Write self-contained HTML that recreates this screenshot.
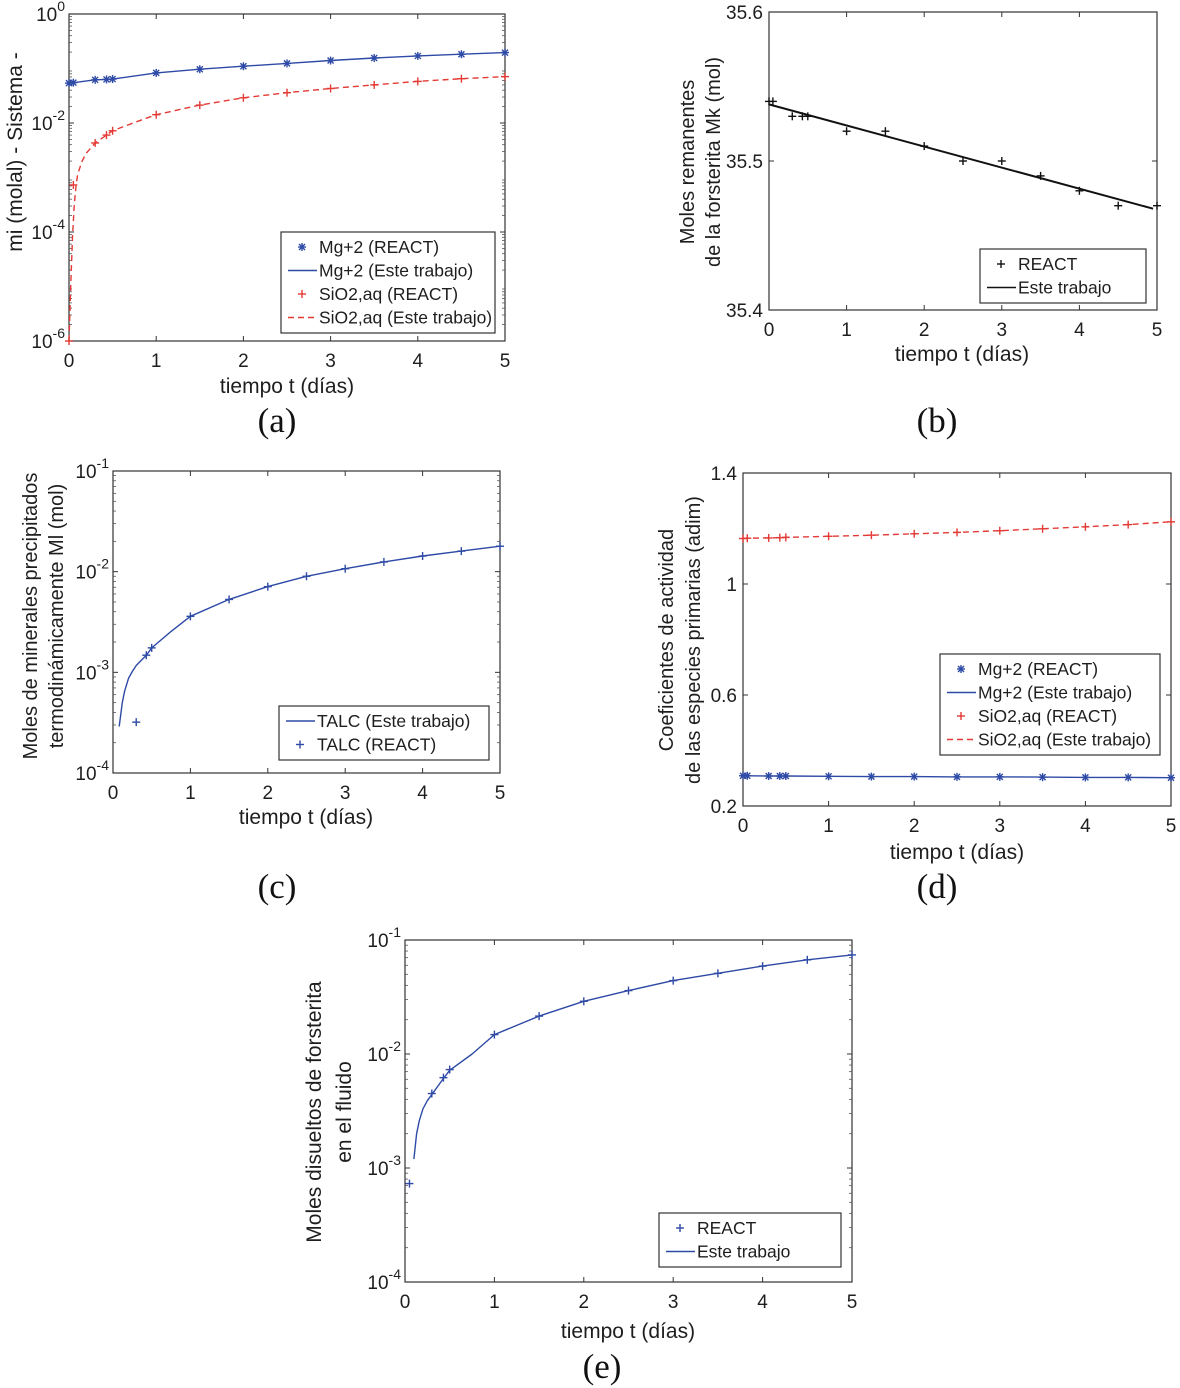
<!DOCTYPE html>
<html><head><meta charset="utf-8"><style>
html,body{margin:0;padding:0;background:#fff}
svg{display:block}
text{font-family:"Liberation Sans",sans-serif;fill:#1e1e1e}
.pl{font-family:"Liberation Serif",serif;font-size:35px;fill:#111}
</style></head><body>
<svg id="fig" width="1180" height="1388" viewBox="0 0 1180 1388" xmlns="http://www.w3.org/2000/svg"></svg>
<script>
// ---- data ----
const tR = [0,0.05,0.3,0.43,0.5,1,1.5,2,2.5,3,3.5,4,4.5,5];
// panel a
const aMg = [0.054,0.055,0.062,0.063,0.064,0.083,0.097,0.11,0.124,0.14,0.156,0.17,0.183,0.196];
const aSiR = [1e-6,7.3e-4,4.3e-3,6.0e-3,7.2e-3,0.0142,0.0213,0.029,0.036,0.043,0.05,0.058,0.065,0.071];
const aSiLt = [0,0.02,0.04,0.06,0.08,0.1,0.15,0.2,0.3,0.43,0.5,0.75,1,1.5,2,2.5,3,3.5,4,4.5,5];
const aSiL = [1e-6,1e-5,8e-5,3e-4,7e-4,1.15e-3,2e-3,2.8e-3,4.3e-3,6e-3,7.2e-3,1.02e-2,0.0142,0.0213,0.029,0.036,0.043,0.05,0.058,0.065,0.071];
// panel b
const bR = [35.540,35.540,35.530,35.530,35.530,35.520,35.520,35.510,35.500,35.500,35.490,35.480,35.470,35.470];
const bLt = [0,4.95];
const bL = [35.538,35.468];
// panel c
const cRt = [0.3,0.43,0.5,1,1.5,2,2.5,3,3.5,4,4.5,5];
const cR = [3.2e-4,1.48e-3,1.75e-3,3.6e-3,5.3e-3,7.1e-3,9.0e-3,1.07e-2,1.25e-2,1.43e-2,1.6e-2,1.79e-2];
const cLt = [0.08,0.12,0.15,0.2,0.25,0.3,0.43,0.5,0.75,1,1.5,2,2.5,3,3.5,4,4.5,5];
const cL = [2.9e-4,5e-4,6.5e-4,8.7e-4,1.02e-3,1.17e-3,1.48e-3,1.75e-3,2.55e-3,3.6e-3,5.3e-3,7.1e-3,9.0e-3,1.07e-2,1.25e-2,1.43e-2,1.6e-2,1.79e-2];
// panel d
const dMg = [0.309,0.309,0.308,0.308,0.308,0.307,0.306,0.306,0.305,0.305,0.304,0.303,0.303,0.302];
const dSi = [1.164,1.165,1.166,1.167,1.168,1.172,1.176,1.181,1.186,1.192,1.199,1.206,1.214,1.224];
// panel e
const eR = [7.3e-4,4.5e-3,6.2e-3,7.3e-3,0.0148,0.0215,0.0290,0.0360,0.0440,0.0510,0.0590,0.0670,0.0740];
const eRt = [0.05,0.3,0.43,0.5,1,1.5,2,2.5,3,3.5,4,4.5,5];
const eLt = [0.1,0.13,0.16,0.2,0.25,0.3,0.43,0.5,0.75,1,1.5,2,2.5,3,3.5,4,4.5,5];
const eL = [1.2e-3,2.0e-3,2.6e-3,3.3e-3,3.9e-3,4.4e-3,6.1e-3,7.2e-3,1.0e-2,0.0148,0.0215,0.029,0.036,0.044,0.051,0.059,0.067,0.074];
const xTicks = [0,1,2,3,4,5];

const NS="http://www.w3.org/2000/svg";
const svg=document.getElementById('fig');
const BLUE="#2e4aa6", RED="#e33a35";
function mk(tag,attrs,parent){const e=document.createElementNS(NS,tag);for(const k in attrs)e.setAttribute(k,attrs[k]);(parent||svg).appendChild(e);return e;}

function panel(id,L,R,T,B,ymin,ymax,log,yTicks){
  const g=mk('g',{});
  
  
  const xs=t=>L+(t-0)/(5-0)*(R-L);
  const ys=v=>log? B-(Math.log10(v)-ymin)/(ymax-ymin)*(B-T) : B-(v-ymin)/(ymax-ymin)*(B-T);
  const box=mk('rect',{x:L,y:T,width:R-L,height:B-T,fill:'none',stroke:'#333','stroke-width':1.2},g);
  
  
  xTicks.forEach(t=>{
    const x=xs(t);
    mk('line',{x1:x,x2:x,y1:B,y2:B-5,stroke:'#333'},g);
    mk('line',{x1:x,x2:x,y1:T,y2:T+5,stroke:'#333'},g);
    const tx=mk('text',{x:x,y:B+26,'font-size':19,'text-anchor':'middle'},g);
    tx.textContent=t;
    
    
  });
  yTicks.forEach(v=>{
    const y=log?ys(Math.pow(10,v)):ys(v);
    mk('line',{x1:L,x2:L+5,y1:y,y2:y,stroke:'#333'},g);
    mk('line',{x1:R,x2:R-5,y1:y,y2:y,stroke:'#333'},g);
    const tx=mk('text',{x:L-6,y:y+7,'font-size':19,'text-anchor':'end'},g);
    
    
    if(log){
      const a=mk('tspan',{},tx);a.textContent='10';
      const b=mk('tspan',{dy:-10,'font-size':14},tx);b.textContent=String(v);
      tx.setAttribute('x',L-4);
    } else tx.textContent=v.toFixed(1);
  });
  if(log){
    for(let d=ymin;d<ymax;d++)for(let k=2;k<10;k++){const y=ys(k*Math.pow(10,d));
      mk('line',{x1:L,x2:L+3,y1:y,y2:y,stroke:'#555','stroke-width':0.8},g);
      mk('line',{x1:R,x2:R-3,y1:y,y2:y,stroke:'#555','stroke-width':0.8},g);}
  }
  return {g,xs,ys};
}
function line(p,ts,vs,color,dash,name,w){
  const d=ts.map((t,i)=>(i?'L':'M')+p.xs(t).toFixed(1)+','+p.ys(vs[i]).toFixed(1)).join(' ');
  const e=mk('path',{d,fill:'none',stroke:color,'stroke-width':w||1.4,'stroke-dasharray':dash||'none','stroke-linejoin':'round'},p.g);
  
  
}
function markers(p,ts,vs,color,type,name){
  const g=mk('g',{stroke:color,'stroke-width':1.4},p.g);
  
  
  ts.forEach((t,i)=>{const x=p.xs(t),y=p.ys(vs[i]);drawMark(g,x,y,type);});
}
function drawMark(g,x,y,type){
  const s=4;
  mk('line',{x1:x-s,x2:x+s,y1:y,y2:y},g);mk('line',{x1:x,x2:x,y1:y-s,y2:y+s},g);
  if(type==='star'){mk('line',{x1:x-3,x2:x+3,y1:y-3,y2:y+3},g);mk('line',{x1:x-3,x2:x+3,y1:y+3,y2:y-3},g);}
}
function legend(name,x,y,w,entries){
  const g=mk('g',{});
  
  
  const h=entries.length*23.5+7;
  mk('rect',{x,y,width:w,height:h,fill:'#fff',stroke:'#333','stroke-width':1.2},g);
  entries.forEach((en,i)=>{
    const cy=y+15+i*23.5;
    const eg=mk('g',{stroke:en.c,'stroke-width':1.4},g);
    
    
    if(en.m) drawMark(eg,x+21,cy,en.m);
    else mk('line',{x1:x+7,x2:x+36,y1:cy,y2:cy,'stroke-dasharray':en.d||'none'},eg);
    const t=mk('text',{x:x+38,y:cy+6,'font-size':17.5,stroke:'none'},eg);t.textContent=en.t;
  });
}
function text(name,s,x,y,size,rot,cls){
  const t=mk('text',{x,y,'font-size':size,'text-anchor':'middle'});
  if(rot)t.setAttribute('transform',`rotate(-90 ${x} ${y})`);
  if(cls)t.setAttribute('class',cls);
  t.textContent=s;
  
  
}

// Panel a
let p=panel('panel-a',69,505,14,341,-6,0,true,[0,-2,-4,-6]);
line(p,tR,aMg,BLUE,null,'mg-line');
markers(p,tR,aMg,BLUE,'star','mg-react-markers');
line(p,aSiLt,aSiL,RED,'6,4','sio2-line');
markers(p,tR,aSiR,RED,'plus','sio2-react-markers');
legend('legend-a',281,232,214,[{m:'star',c:BLUE,t:'Mg+2 (REACT)'},{c:BLUE,t:'Mg+2 (Este trabajo)'},{m:'plus',c:RED,t:'SiO2,aq (REACT)'},{c:RED,d:'6,4',t:'SiO2,aq (Este trabajo)'}]);
text('y-axis-title-a','mi (molal) - Sistema -',22,152,21,true);
text('x-axis-title-a','tiempo t (días)',287,393,21);
text('panel-label-a','(a)',277,432,35,false,'pl');

// Panel b
p=panel('panel-b',769,1157,12,310,35.4,35.6,false,[35.6,35.5,35.4]);
line(p,bLt,bL,'#111',null,'este-trabajo-line',2);
markers(p,tR,bR,'#111','plus','react-markers');
legend('legend-b',980,249,166,[{m:'plus',c:'#111',t:'REACT'},{c:'#111',t:'Este trabajo'}]);
text('y-axis-title-b-1','Moles remanentes',694,162,20,true);
text('y-axis-title-b-2','de la forsterita Mk (mol)',720,162,20,true);
text('x-axis-title-b','tiempo t (días)',962,361,21);
text('panel-label-b','(b)',937,432,35,false,'pl');

// Panel c
p=panel('panel-c',113,500,471,773,-4,-1,true,[-1,-2,-3,-4]);
line(p,cLt,cL,BLUE,null,'talc-line');
markers(p,cRt,cR,BLUE,'plus','talc-react-markers');
legend('legend-c',279,706,210,[{c:BLUE,t:'TALC (Este trabajo)'},{m:'plus',c:BLUE,t:'TALC (REACT)'}]);
text('y-axis-title-c-1','Moles de minerales precipitados',37,616,20,true);
text('y-axis-title-c-2','termodinámicamente Ml (mol)',63,616,20,true);
text('x-axis-title-c','tiempo t (días)',306,824,21);
text('panel-label-c','(c)',277,898,35,false,'pl');

// Panel d
p=panel('panel-d',743,1171,473,806,0.2,1.4,false,[1.4,1.0,0.6,0.2]);
p.g.querySelectorAll('text').forEach(t=>{if(t.textContent==='1.0')t.textContent='1';});
line(p,tR,dMg,BLUE,null,'mg-gamma-line');
markers(p,tR,dMg,BLUE,'star','mg-gamma-markers');
line(p,tR,dSi,RED,'6,4','sio2-gamma-line');
markers(p,tR,dSi,RED,'plus','sio2-gamma-markers');
legend('legend-d',940,654,220,[{m:'star',c:BLUE,t:'Mg+2 (REACT)'},{c:BLUE,t:'Mg+2 (Este trabajo)'},{m:'plus',c:RED,t:'SiO2,aq (REACT)'},{c:RED,d:'6,4',t:'SiO2,aq (Este trabajo)'}]);
text('y-axis-title-d-1','Coeficientes de actividad',673,640,20,true);
text('y-axis-title-d-2','de las especies primarias (adim)',700,640,20,true);
text('x-axis-title-d','tiempo t (días)',957,859,21);
text('panel-label-d','(d)',937,898,35,false,'pl');

// Panel e
p=panel('panel-e',405,852,940,1282,-4,-1,true,[-1,-2,-3,-4]);
line(p,eLt,eL,BLUE,null,'forsterita-line');
markers(p,eRt,eR,BLUE,'plus','forsterita-react-markers');
legend('legend-e',659,1213,182,[{m:'plus',c:BLUE,t:'REACT'},{c:BLUE,t:'Este trabajo'}]);
text('y-axis-title-e-1','Moles disueltos de forsterita',321,1112,21,true);
text('y-axis-title-e-2','en el fluido',351,1112,21,true);
text('x-axis-title-e','tiempo t (días)',628,1338,21);
text('panel-label-e','(e)',602,1378,35,false,'pl');
</script>
</body></html>
